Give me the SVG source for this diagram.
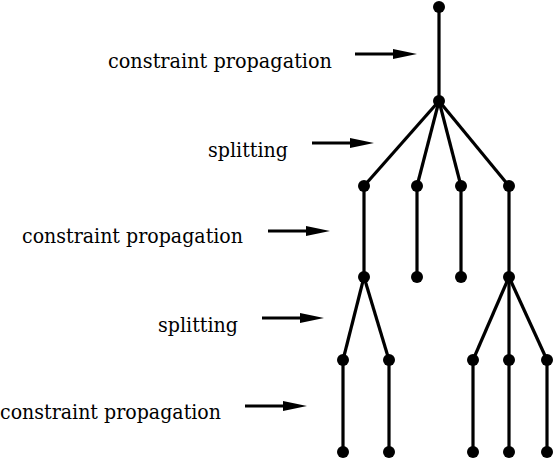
<svg xmlns="http://www.w3.org/2000/svg" width="554" height="460" viewBox="0 0 554 460">
<style>
.e{stroke:#000;stroke-width:3.2;fill:none}
.n{fill:#000}
.t{font-family:"DejaVu Serif","Liberation Serif",serif;font-size:20px;fill:#000;text-anchor:end}
.a{stroke:#000;stroke-width:3.2}
.h{fill:#000}
</style>
<g id="connectors">
<line class="e" x1="439" y1="7" x2="439" y2="101"/>
<line class="e" x1="439" y1="101" x2="364" y2="186"/>
<line class="e" x1="439" y1="101" x2="417" y2="186"/>
<line class="e" x1="439" y1="101" x2="461" y2="186"/>
<line class="e" x1="439" y1="101" x2="509" y2="186"/>
<line class="e" x1="364" y1="186" x2="364" y2="277"/>
<line class="e" x1="417" y1="186" x2="417" y2="277"/>
<line class="e" x1="461" y1="186" x2="461" y2="277"/>
<line class="e" x1="509" y1="186" x2="509" y2="277"/>
<line class="e" x1="364" y1="277" x2="343" y2="360"/>
<line class="e" x1="364" y1="277" x2="389" y2="360"/>
<line class="e" x1="509" y1="277" x2="473" y2="360"/>
<line class="e" x1="509" y1="277" x2="509" y2="360"/>
<line class="e" x1="509" y1="277" x2="547" y2="360"/>
<line class="e" x1="343" y1="360" x2="343" y2="452"/>
<line class="e" x1="389" y1="360" x2="389" y2="452"/>
<line class="e" x1="473" y1="360" x2="473" y2="452"/>
<line class="e" x1="509" y1="360" x2="509" y2="452"/>
<line class="e" x1="547" y1="360" x2="547" y2="452"/>
</g>
<g id="n0"><circle class="n" cx="439" cy="7" r="6"/></g>
<g id="n1"><circle class="n" cx="439" cy="101" r="6"/></g>
<g id="n2"><circle class="n" cx="364" cy="186" r="6"/></g>
<g id="n3"><circle class="n" cx="417" cy="186" r="6"/></g>
<g id="n4"><circle class="n" cx="461" cy="186" r="6"/></g>
<g id="n5"><circle class="n" cx="509" cy="186" r="6"/></g>
<g id="n6"><circle class="n" cx="364" cy="277" r="6"/></g>
<g id="n7"><circle class="n" cx="417" cy="277" r="6"/></g>
<g id="n8"><circle class="n" cx="461" cy="277" r="6"/></g>
<g id="n9"><circle class="n" cx="509" cy="277" r="6"/></g>
<g id="n10"><circle class="n" cx="343" cy="360" r="6"/></g>
<g id="n11"><circle class="n" cx="389" cy="360" r="6"/></g>
<g id="n12"><circle class="n" cx="473" cy="360" r="6"/></g>
<g id="n13"><circle class="n" cx="509" cy="360" r="6"/></g>
<g id="n14"><circle class="n" cx="547" cy="360" r="6"/></g>
<g id="n15"><circle class="n" cx="343" cy="452" r="6"/></g>
<g id="n16"><circle class="n" cx="389" cy="452" r="6"/></g>
<g id="n17"><circle class="n" cx="473" cy="452" r="6"/></g>
<g id="n18"><circle class="n" cx="509" cy="452" r="6"/></g>
<g id="n19"><circle class="n" cx="547" cy="452" r="6"/></g>
<g id="label1">
<text class="t" x="332" y="68" textLength="224" lengthAdjust="spacingAndGlyphs">constraint propagation</text>
<line class="a" x1="355" y1="54" x2="400" y2="54"/>
<polygon class="h" points="393,49 417,54 393,59"/>
</g>
<g id="label2">
<text class="t" x="288" y="157" textLength="80" lengthAdjust="spacingAndGlyphs">splitting</text>
<line class="a" x1="312" y1="143" x2="355" y2="143"/>
<polygon class="h" points="350,138 374,143 350,148"/>
</g>
<g id="label3">
<text class="t" x="243" y="243" textLength="221" lengthAdjust="spacingAndGlyphs">constraint propagation</text>
<line class="a" x1="268" y1="231" x2="313" y2="231"/>
<polygon class="h" points="306,226 330,231 306,236"/>
</g>
<g id="label4">
<text class="t" x="238" y="332" textLength="80" lengthAdjust="spacingAndGlyphs">splitting</text>
<line class="a" x1="262" y1="318" x2="307" y2="318"/>
<polygon class="h" points="300,313 324,318 300,323"/>
</g>
<g id="label5">
<text class="t" x="221" y="419" textLength="221" lengthAdjust="spacingAndGlyphs">constraint propagation</text>
<line class="a" x1="245" y1="406" x2="290" y2="406"/>
<polygon class="h" points="283,401 307,406 283,411"/>
</g>
</svg>
